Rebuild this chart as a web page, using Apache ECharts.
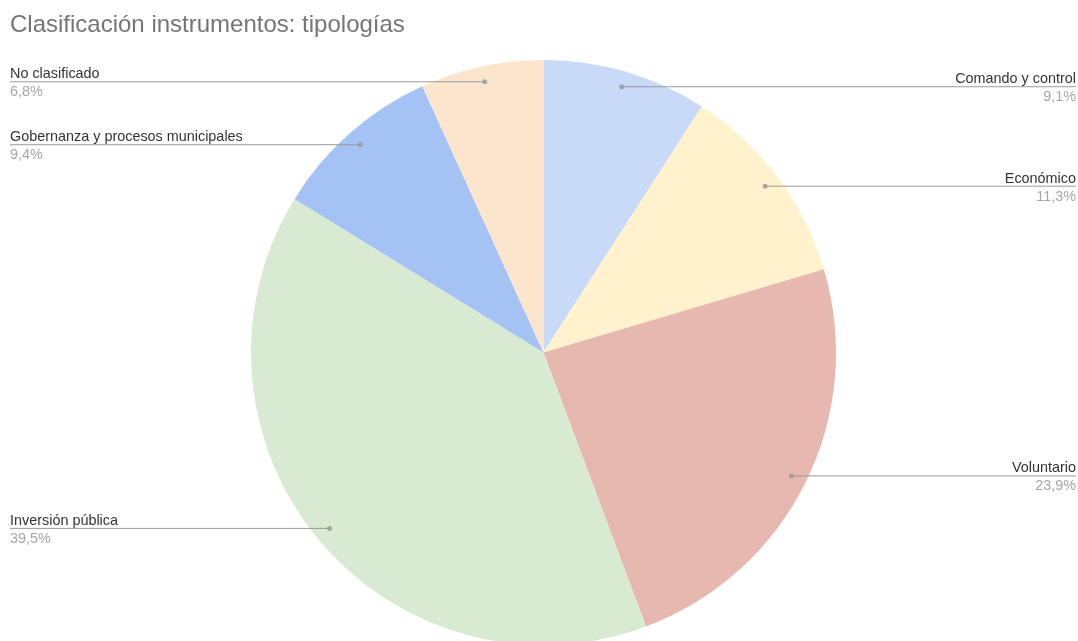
<!DOCTYPE html>
<html>
<head>
<meta charset="utf-8">
<script src="https://cdn.jsdelivr.net/npm/echarts@6/dist/echarts.min.js"></script>
<style>html,body{margin:0;padding:0;background:#fff}#c{width:1078px;height:641px}</style>
</head>
<body>
<div id="c"></div>
<script>
const categories = ['Comando y control', 'Económico', 'Voluntario', 'Inversión pública', 'Gobernanza y procesos municipales', 'No clasificado'];
const values = [9.1, 11.3, 23.9, 39.5, 9.4, 6.8];
const colors = ['#c9daf8', '#fff2cc', '#e6b8af', '#d9ead3', '#a4c2f4', '#fce5cd'];

const CX = 543.5, CY = 352.5, R = 292.5, DOT = 0.947;
const total = values.reduce((a, b) => a + b, 0);
const midAngles = [];
let acc = 0;
values.forEach(v => { midAngles.push((acc + v / 2) / total * 360); acc += v; });

const chart = echarts.init(document.getElementById('c'), null, {renderer: 'canvas'});
const W = 1078;
const fmt = v => v.toFixed(1).replace('.', ',') + '%';
const FONT = 'Liberation Sans, Arial, sans-serif';

chart.setOption({
  animation: false,
  title: {
    text: 'Clasificación instrumentos: tipologías',
    left: 5, top: 8,
    textStyle: {fontFamily: FONT, fontSize: 24, fontWeight: 'normal', color: '#757575'}
  },
  polar: {center: [CX, CY], radius: R},
  angleAxis: {type: 'value', min: 0, max: 360, startAngle: 90, clockwise: true, show: false},
  radiusAxis: {type: 'value', min: 0, max: 1, show: false},
  series: [
    {
      type: 'pie',
      center: [CX, CY],
      radius: R,
      startAngle: 90,
      clockwise: true,
      silent: true,
      z: 1,
      data: categories.map((c, i) => ({name: c, value: values[i], itemStyle: {color: colors[i]}})),
      itemStyle: {borderWidth: 0},
      label: {show: false},
      labelLine: {show: false}
    },
    {
      type: 'pie',
      center: [CX, CY],
      radius: R,
      startAngle: 90,
      clockwise: true,
      silent: true,
      z: 3,
      data: categories.map((c, i) => ({name: c, value: values[i]})),
      itemStyle: {color: 'rgba(0,0,0,0)', borderWidth: 0},
      label: {
        show: true,
        position: 'outside',
        formatter: p => '{n|' + p.name + '}\n{p|' + fmt(p.value) + '}',
        rich: {
          n: {fontFamily: FONT, fontSize: 14.4, color: '#333333', lineHeight: 18},
          p: {fontFamily: FONT, fontSize: 14.4, color: '#a6a6a6', lineHeight: 18}
        }
      },
      labelLine: {show: true, lineStyle: {color: '#999999', width: 1}},
      labelLayout: function (params) {
        const i = params.dataIndex;
        const th = midAngles[i] * Math.PI / 180;
        const dx = CX + R * DOT * Math.sin(th);
        const dy = CY - R * DOT * Math.cos(th);
        const right = midAngles[i] < 180;
        const ex = right ? W - 2 : 10;
        return {
          x: ex, y: dy + 1.5,
          align: right ? 'right' : 'left',
          verticalAlign: 'middle',
          labelLinePoints: [[dx, dy], [dx, dy], [ex, dy]]
        };
      }
    },
    {
      type: 'scatter',
      coordinateSystem: 'polar',
      silent: true,
      symbolSize: 5,
      z: 5,
      itemStyle: {color: '#999999'},
      data: midAngles.map(a => [DOT, a])
    }
  ]
});
</script>
</body>
</html>
